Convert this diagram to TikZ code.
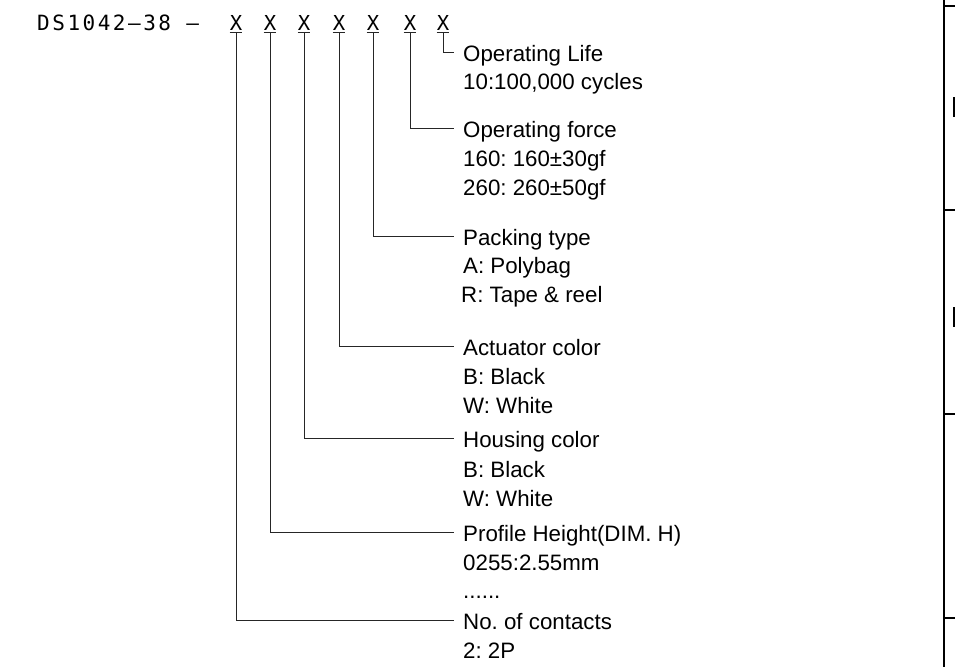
\documentclass[tikz,border=0pt]{standalone}
\usepackage{fontspec}
\setmainfont{Liberation Sans}
\newfontfamily\cadfont[LetterSpace=12]{DejaVu Sans Mono}
\newfontfamily\xfont{DejaVu Sans Mono}
\frenchspacing

\tikzset{
  lbl/.style={anchor=base west, inner xsep=9pt, inner ysep=0pt, text height=17pt, text depth=0pt,
    font=\fontsize{22.3}{26}\selectfont},
  partno/.style={anchor=base west, inner sep=0pt, font=\cadfont\fontsize{21}{24}\selectfont},
  digit/.style={anchor=base, inner xsep=0pt, inner ysep=2.5pt, text height=15pt, text depth=0pt,
    font=\xfont\fontsize{20.6}{24}\selectfont},
  conn/.style={line width=1pt, black!85},
}

\begin{document}
\begin{tikzpicture}[x=1pt, y=-1pt]
  \useasboundingbox (0,0) rectangle (955,667);

  % part number
  \node[partno] (pn) at (37,30) {DS1042–38 –};
  \foreach \n/\x in {1/236,2/270,3/304,4/339,5/373,6/410,7/443}
    \node[digit] (x\n) at (\x,30) {X};
  \foreach \n in {1,...,7} { \draw[conn] (x\n.south west) -- (x\n.south east); }

  % options
  \node[lbl] (life)  at (454,61)  {Operating Life};
  \node[lbl] (life1) at (454,89)  {10:100,000 cycles};
  \node[lbl] (force)  at (454,137) {Operating force};
  \node[lbl] (force1) at (454,166) {160: 160±30gf};
  \node[lbl] (force2) at (454,195) {260: 260±50gf};
  \node[lbl] (pack)  at (454,245) {Packing type};
  \node[lbl] (pack1) at (454,273) {A: Polybag};
  \node[lbl] (pack2) at (452,302) {R: Tape \& reel};
  \node[lbl] (act)  at (454,355) {Actuator color};
  \node[lbl] (act1) at (454,384) {B: Black};
  \node[lbl] (act2) at (454,413) {W: White};
  \node[lbl] (hous)  at (454,447) {Housing color};
  \node[lbl] (hous1) at (454,477) {B: Black};
  \node[lbl] (hous2) at (454,506) {W: White};
  \node[lbl] (prof)  at (454,541) {Profile Height(DIM. H)};
  \node[lbl] (prof1) at (454,570) {0255:2.55mm};
  \node[lbl] (prof2) at (454,598) {......};
  \node[lbl] (cont)  at (454,629) {No. of contacts};
  \node[lbl] (cont1) at (454,658) {2: 2P};

  \foreach \n/\l in {1/cont,2/prof,3/hous,4/act,5/pack,6/force,7/life}
    \draw[conn] (x\n.south) |- (\l.west);

  % table edge
  \draw[line width=2pt] (944,0) -- (944,667);
  \foreach \y in {6,210,414,618} { \draw[line width=1.5pt] (944,\y) -- (955,\y); }
  \foreach \y in {97,307} { \draw[line width=1.5pt] (954,\y) -- ++(0,20); }
\end{tikzpicture}
\end{document}
